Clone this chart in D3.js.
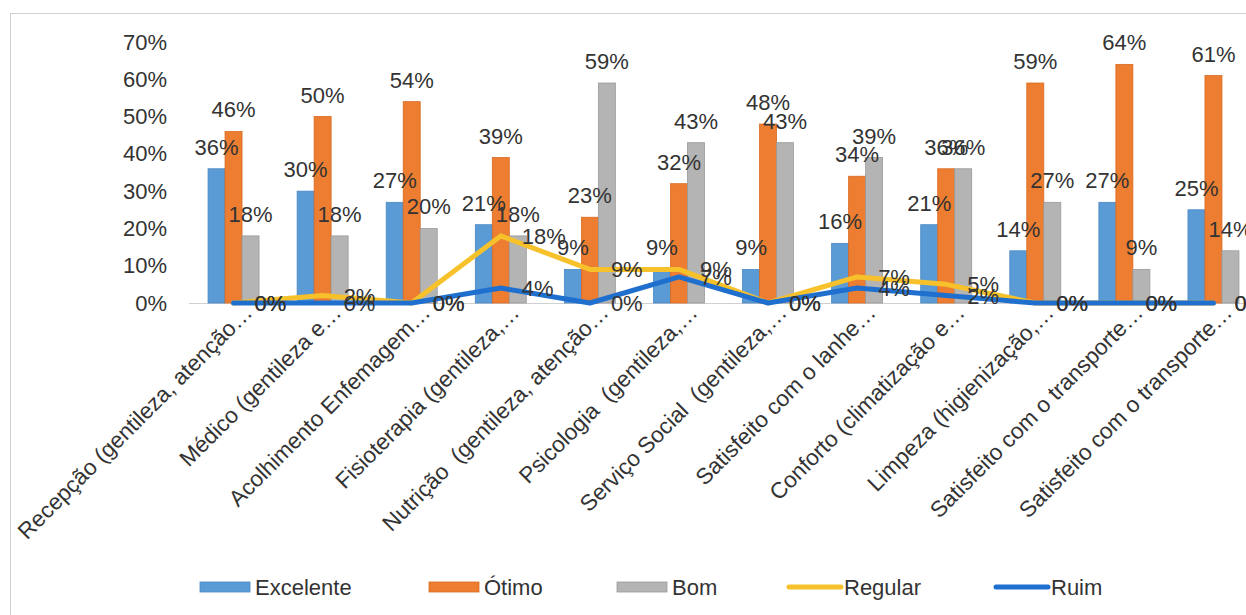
<!DOCTYPE html>
<meta charset="utf-8">
<style>
    body { margin: 0; background: #fff; }
    text {
        font-family: "Liberation Sans", Arial, sans-serif;
        fill: #333;
    }
</style>
<svg id="chart" width="1246" height="615"></svg>
<script src="https://cdn.jsdelivr.net/npm/d3@7/dist/d3.min.js"></script>
<script>
    var categories = [
        "Recepção (gentileza, atenção…",
        "Médico (gentileza e…",
        "Acolhimento Enfemagem…",
        "Fisioterapia (gentileza,…",
        "Nutrição  (gentileza, atenção…",
        "Psicologia  (gentileza,…",
        "Serviço Social  (gentileza,…",
        "Satisfeito com o lanhe…",
        "Conforto (climatização e…",
        "Limpeza (higienização,…",
        "Satisfeito com o transporte…",
        "Satisfeito com o transporte…"
    ];
    // percentuais por categoria
    var excelente = [36, 30, 27, 21, 9, 9, 9, 16, 21, 14, 27, 25];
    var otimo     = [46, 50, 54, 39, 23, 32, 48, 34, 36, 59, 64, 61];
    var bom       = [18, 18, 20, 18, 59, 43, 43, 39, 36, 27, 9, 14];
    var regular   = [0, 2, 0, 18, 9, 9, 0, 7, 5, 0, 0, 0];
    var ruim      = [0, 0, 0, 4, 0, 7, 0, 4, 2, 0, 0, 0];
    var yTicks    = [0, 10, 20, 30, 40, 50, 60, 70];

    var barSeries = [
        { name: "Excelente", values: excelente, color: "#5b9bd5", stroke: "#4a88c4" },
        { name: "Ótimo", values: otimo, color: "#ed7d31", stroke: "#d96a22" },
        { name: "Bom", values: bom, color: "#b4b4b4", stroke: "#9a9a9a" }
    ];
    var lineSeries = [
        { name: "Regular", values: regular, color: "#f6c12b" },
        { name: "Ruim", values: ruim, color: "#1f6fcf" }
    ];

    var svg = d3.select("#chart");

    // moldura do gráfico
    svg.append("rect")
        .attr("x", 10.5).attr("y", 13.5)
        .attr("width", 1300).attr("height", 700)
        .attr("fill", "none")
        .attr("stroke", "#cfcfcf");

    var x = d3.scaleBand().domain(d3.range(categories.length)).range([189, 1258]).padding(0);
    var xInner = d3.scaleBand().domain(barSeries.map(d => d.name)).range([-25.5, 25.5]).padding(0);
    var y = d3.scaleLinear().domain([0, 70]).range([303, 42]);
    var cx = i => x(i) + x.bandwidth() / 2;

    // eixo Y (só rótulos)
    var yAxis = svg.append("g")
        .attr("transform", "translate(170,0)")
        .call(d3.axisLeft(y).tickValues(yTicks).tickSize(0).tickPadding(3).tickFormat(d => d + "%"));
    yAxis.select(".domain").remove();
    yAxis.selectAll("text").style("font-size", "22px").attr("fill", "#333")
        .style("font-family", '"Liberation Sans", Arial, sans-serif');

    // linha de base
    svg.append("line")
        .attr("x1", 189).attr("x2", 1258)
        .attr("y1", y(0) + 0.5).attr("y2", y(0) + 0.5)
        .attr("stroke", "#d0d0d0");

    // barras
    barSeries.forEach(function (s) {
        svg.append("g").selectAll("rect")
            .data(s.values)
            .enter().append("rect")
            .attr("x", (d, i) => cx(i) + xInner(s.name))
            .attr("y", d => y(d))
            .attr("width", xInner.bandwidth())
            .attr("height", d => y(0) - y(d))
            .attr("fill", s.color)
            .attr("stroke", s.stroke)
            .attr("stroke-width", 0.8);
    });

    // linhas
    var line = d3.line().x((d, i) => cx(i)).y(d => y(d));
    lineSeries.forEach(function (s) {
        svg.append("path")
            .datum(s.values)
            .attr("d", line)
            .attr("fill", "none")
            .attr("stroke", s.color)
            .attr("stroke-width", 5)
            .attr("stroke-linejoin", "round")
            .attr("stroke-linecap", "round");
    });

    // rótulos das barras
    barSeries.forEach(function (s) {
        svg.append("g").selectAll("text")
            .data(s.values)
            .enter().append("text")
            .attr("x", (d, i) => cx(i) + xInner(s.name) + xInner.bandwidth() / 2)
            .attr("y", d => y(d) - 14)
            .attr("text-anchor", "middle")
            .style("font-size", "22px")
            .text(d => d + "%");
    });

    // rótulos das linhas (à direita do ponto)
    lineSeries.forEach(function (s) {
        svg.append("g").selectAll("text")
            .data(s.values)
            .enter().append("text")
            .attr("x", (d, i) => cx(i) + 21)
            .attr("y", d => y(d) + 8)
            .style("font-size", "22px")
            .text(d => d + "%");
    });

    // rótulos das categorias
    svg.append("g").selectAll("text")
        .data(categories)
        .enter().append("text")
        .attr("transform", (d, i) => "translate(" + (cx(i) + 20) + ",314) rotate(-45)")
        .attr("text-anchor", "end")
        .style("font-size", "22.5px")
        .style("white-space", "pre")
        .text(d => d);

    // legenda
    var legendItems = barSeries.map(d => ({ name: d.name, color: d.color, stroke: d.stroke, type: "bar" }))
        .concat(lineSeries.map(d => ({ name: d.name, color: d.color, type: "line" })));
    var legendX = [200, 429, 617, 789, 996];
    var legend = svg.append("g").selectAll("g")
        .data(legendItems)
        .enter().append("g")
        .attr("transform", (d, i) => "translate(" + legendX[i] + ",587)");
    legend.filter(d => d.type === "bar").append("rect")
        .attr("x", 0).attr("y", -5).attr("width", 50).attr("height", 10)
        .attr("fill", d => d.color).attr("stroke", d => d.stroke).attr("stroke-width", 0.8);
    legend.filter(d => d.type === "line").append("line")
        .attr("x1", 0).attr("x2", 52).attr("y1", 0).attr("y2", 0)
        .attr("stroke", d => d.color).attr("stroke-width", 5).attr("stroke-linecap", "round");
    legend.append("text")
        .attr("x", 55)
        .attr("y", 8)
        .style("font-size", "22px")
        .text(d => d.name);
</script>
